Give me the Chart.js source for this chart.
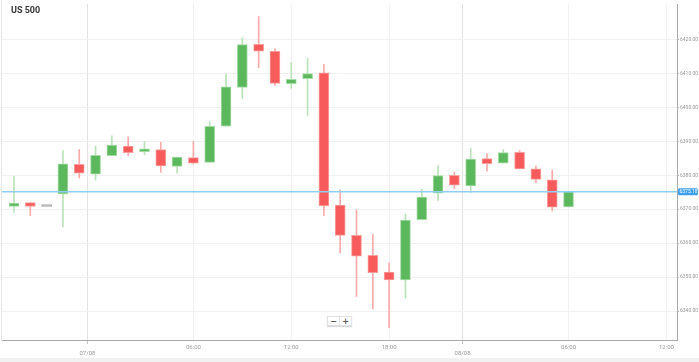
<!DOCTYPE html>
<html>
<head>
<meta charset="utf-8">
<script src="https://cdn.jsdelivr.net/npm/chart.js@4.4.1/dist/chart.umd.min.js"></script>
<style>
    body { margin: 0; background: #f1f1f1; }
    #quadro { position: relative; width: 699px; height: 358px; background: #fff; }
    #titulo { position: absolute; left: 11px; top: 5px; font: bold 9px Roboto, sans-serif; color: #333; }
    #zoom { position: absolute; left: 327px; top: 316px; display: flex; box-shadow: 0 1px 1px rgba(0,0,0,0.15); }
    #zoom div { width: 11px; height: 8px; line-height: 8px; text-align: center; font: bold 8px "DejaVu Sans", sans-serif; color: #555; background: #fff; border: 1px solid #e2e2e2; }
    #zoom div + div { border-left: none; }
</style>
</head>
<body>
<div id="quadro">
    <canvas id="grafico" width="699" height="358"></canvas>
    <div id="titulo">US 500</div>
    <div id="zoom"><div>−</div><div>+</div></div>
</div>
<script>
// Velas horárias (07/08 -> 08/08)
const aberturas = [6370.8, 6372.0, 6370.8, 6374.5, 6383.2, 6380.3, 6385.8, 6388.6, 6387.0, 6387.6, 6382.6, 6385.2, 6383.8, 6394.5, 6405.9, 6418.6, 6416.5, 6407.0, 6408.5, 6410.2, 6371.2, 6362.3, 6356.4, 6351.5, 6349.2, 6366.9, 6374.7, 6380.0, 6376.9, 6384.9, 6383.6, 6386.8, 6381.9, 6378.7, 6370.7];
const maximas  = [6379.8, 6372.0, 6370.8, 6387.3, 6387.6, 6388.6, 6391.6, 6391.3, 6390.0, 6389.7, 6385.4, 6390.0, 6395.7, 6409.8, 6420.6, 6426.8, 6417.3, 6413.2, 6414.5, 6412.7, 6375.7, 6369.8, 6362.6, 6354.2, 6368.6, 6375.9, 6382.9, 6381.0, 6387.9, 6386.4, 6387.6, 6387.3, 6382.7, 6381.6, 6375.18];
const minimas  = [6369.1, 6368.1, 6370.8, 6364.8, 6379.2, 6378.6, 6385.8, 6385.8, 6386.1, 6380.9, 6380.6, 6383.3, 6383.8, 6394.5, 6402.6, 6411.7, 6406.5, 6405.6, 6397.6, 6368.1, 6357.1, 6344.3, 6340.6, 6335.1, 6343.8, 6366.9, 6372.6, 6376.1, 6374.9, 6381.2, 6383.6, 6381.9, 6377.8, 6369.5, 6370.7];
const fechamentos = [6371.8, 6370.8, 6370.8, 6383.4, 6380.6, 6385.9, 6388.9, 6386.7, 6387.8, 6382.8, 6385.4, 6383.6, 6394.4, 6406.1, 6418.5, 6416.6, 6407.1, 6408.3, 6410.0, 6371.0, 6362.3, 6356.2, 6351.3, 6349.2, 6366.8, 6373.6, 6379.9, 6377.1, 6384.8, 6383.4, 6386.7, 6381.9, 6378.8, 6370.6, 6375.18];

// Eixo X: posições (em velas) e rótulos
const posicoesX = [4.5, 11, 17, 23, 27.5, 34, 40];
const rotulosX = ["07/08", "06:00", "12:00", "18:00", "08/08", "06:00", "12:00"];
const ehData = [true, false, false, false, true, false, false];

// Eixo Y
const ticksY = [6340, 6350, 6360, 6370, 6380, 6390, 6400, 6410, 6420];
const precoAtual = 6375.18;

const verde = "#5cb85c", vermelho = "#f75b5b", cinza = "#a8a8a8";

function corVela(i) {
    if (fechamentos[i] > aberturas[i]) return verde;
    if (fechamentos[i] < aberturas[i]) return vermelho;
    return cinza;
}

const corpos = aberturas.map((o, i) => ({ x: i, y: [o, fechamentos[i]] }));
const pavios = aberturas.map((o, i) => ({ x: i, y: [minimas[i], maximas[i]] }));

const linhaPreco = {
    id: "linhaPreco",
    beforeDraw(chart) {
        const ctx = chart.ctx;
        ctx.save();
        ctx.strokeStyle = "#e4e4e4";
        ctx.lineWidth = 1;
        ctx.beginPath();
        ctx.moveTo(1.5, 0);
        ctx.lineTo(1.5, chart.chartArea.bottom);
        ctx.stroke();
        ctx.restore();
    },
    afterDatasetsDraw(chart) {
        const { ctx, chartArea } = chart;
        const y = chart.scales.y.getPixelForValue(precoAtual);
        ctx.save();
        ctx.strokeStyle = "#91cff6";
        ctx.lineWidth = 1.5;
        ctx.beginPath();
        ctx.moveTo(chartArea.left, y);
        ctx.lineTo(chartArea.right, y);
        ctx.stroke();
        ctx.restore();
    },
    afterDraw(chart) {
        const { ctx, chartArea } = chart;
        const y = chart.scales.y.getPixelForValue(precoAtual);
        ctx.save();
        ctx.fillStyle = "#3d9ff0";
        ctx.beginPath();
        ctx.roundRect(chartArea.right + 1, y - 3.5, 20, 7, 1.5);
        ctx.fill();
        ctx.fillStyle = "#fff";
        ctx.font = "5px Roboto, sans-serif";
        ctx.textBaseline = "middle";
        ctx.fillText(precoAtual.toFixed(2), chartArea.right + 2.5, y + 0.3);
        ctx.restore();
    }
};

new Chart(document.getElementById("grafico"), {
    type: "bar",
    data: {
        datasets: [{
            data: corpos,
            backgroundColor: ctx => corVela(ctx.dataIndex),
            borderColor: ctx => {
                const c = corVela(ctx.dataIndex);
                return c === verde ? "#a5dba5" : c === vermelho ? "#fa9e9e" : cinza;
            },
            borderWidth: 1,
            borderSkipped: false,
            barThickness: 10,
            minBarLength: 2,
            grouped: false
        }, {
            data: pavios,
            backgroundColor: ctx => {
                const c = corVela(ctx.dataIndex);
                return c === verde ? "#b9e2b9" : c === vermelho ? "#f9aaaa" : "rgba(0,0,0,0)";
            },
            borderWidth: 0,
            barThickness: 1,
            grouped: false
        }]
    },
    options: {
        responsive: false,
        animation: false,
        devicePixelRatio: 1,
        layout: { padding: { left: 2, right: 0, top: 0, bottom: 0 } },
        plugins: {
            legend: { display: false },
            tooltip: { enabled: false }
        },
        scales: {
            x: {
                type: "linear",
                min: -0.736,
                max: 40.65,
                offset: false,
                afterBuildTicks: scale => {
                    scale.ticks = posicoesX.map(v => ({ value: v }));
                },
                afterFit: scale => { scale.height = 18; },
                ticks: {
                    autoSkip: false,
                    maxRotation: 0,
                    padding: 0,
                    color: "#999",
                    font: { family: "Roboto", size: 6, lineHeight: 1.1 },
                    callback: (v, i) => ehData[i] ? ["", rotulosX[i]] : rotulosX[i]
                },
                grid: {
                    offset: false,
                    color: ctx => (ctx.tick && ehData[posicoesX.indexOf(ctx.tick.value)]) ? "#e3e3e3" : "#f1f1f1",
                    tickColor: ctx => (ctx.tick && ehData[posicoesX.indexOf(ctx.tick.value)]) ? "#c4c4c4" : "rgba(0,0,0,0)",
                    tickLength: 4
                },
                border: { color: "#aaa" }
            },
            y: {
                position: "right",
                min: 6331.47,
                max: 6430.48,
                afterBuildTicks: scale => {
                    scale.ticks = ticksY.map(v => ({ value: v }));
                },
                afterFit: scale => { scale.width = 22; },
                ticks: {
                    padding: 1,
                    color: "#999",
                    font: { family: "Roboto", size: 5 },
                    callback: v => v.toFixed(2)
                },
                grid: {
                    color: "#f1f1f1",
                    tickColor: "#bbb",
                    tickLength: 2
                },
                border: { color: "#aaa" }
            }
        }
    },
    plugins: [linhaPreco]
});
</script>
</body>
</html>
